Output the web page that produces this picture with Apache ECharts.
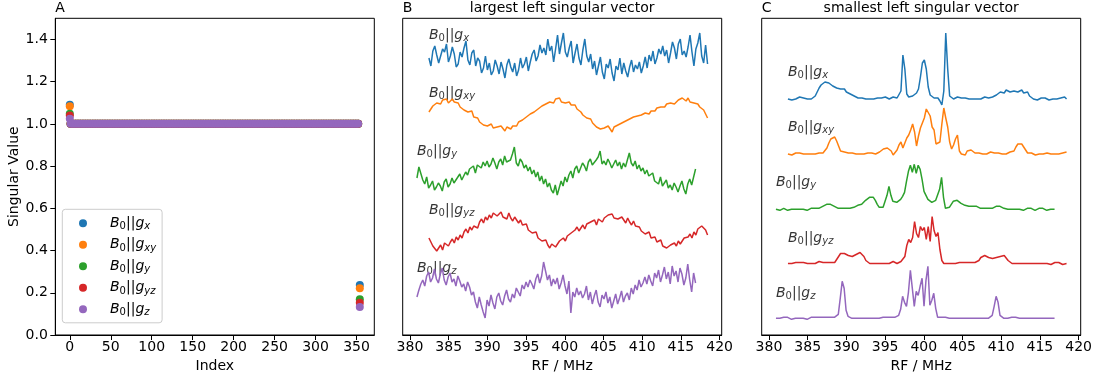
<!DOCTYPE html>
<html>
<head>
<meta charset="utf-8">
<title>singular vectors</title>
<script src="https://cdn.jsdelivr.net/npm/echarts@6/dist/echarts.min.js"></script>
<style>
  html, body { margin: 0; padding: 0; background: #fff; }
  #main { width: 1101px; height: 379px; }
</style>
</head>
<body>
<div id="main"></div>
<script>
// ---- data ----
const orientations = ['x', 'xy', 'y', 'yz', 'z'];
const colors = ['#1f77b4', '#ff7f0e', '#2ca02c', '#d62728', '#9467bd'];

// panel A: singular values vs index
const firstIndex = 0;
const lastIndex = 354;
const firstValues = [1.090, 1.083, 1.048, 1.040, 1.024];
const lastValues = [0.237, 0.222, 0.169, 0.153, 0.133];
const plateauIndex = [1, 4, 7, 10, 13, 16, 19, 22, 25, 28, 31, 34, 37, 40, 43, 46, 49, 52, 55, 58,
  61, 64, 67, 70, 73, 76, 79, 82, 85, 88, 91, 94, 97, 100, 103, 106, 109, 112, 115, 118,
  121, 124, 127, 130, 133, 136, 139, 142, 145, 148, 151, 154, 157, 160, 163, 166, 169, 172, 175, 178,
  181, 184, 187, 190, 193, 196, 199, 202, 205, 208, 211, 214, 217, 220, 223, 226, 229, 232, 235, 238,
  241, 244, 247, 250, 253, 256, 259, 262, 265, 268, 271, 274, 277, 280, 283, 286, 289, 292, 295, 298,
  301, 304, 307, 310, 313, 316, 319, 322, 325, 328, 331, 334, 337, 340, 343, 346, 349, 352];
const plateauValues = [1, 1, 1, 1, 1, 1, 1, 1, 1, 1, 1, 1, 1, 1, 1, 1, 1, 1, 1, 1,
  1, 1, 1, 1, 1, 1, 1, 1, 1, 1, 1, 1, 1, 1, 1, 1, 1, 1, 1, 1,
  1, 1, 1, 1, 1, 1, 1, 1, 1, 1, 1, 1, 1, 1, 1, 1, 1, 1, 1, 1,
  1, 1, 1, 1, 1, 1, 1, 1, 1, 1, 1, 1, 1, 1, 1, 1, 1, 1, 1, 1,
  1, 1, 1, 1, 1, 1, 1, 1, 1, 1, 1, 1, 1, 1, 1, 1, 1, 1, 1, 1,
  1, 1, 1, 1, 1, 1, 1, 1, 1, 1, 1, 1, 1, 1, 1, 1, 1, 1];

// RF grid of every trace (MHz)
const freqStart = [382.45, 382.45, 380.9, 382.45, 380.9];
const freqStep = 0.2517;

// panel B: largest left singular vector (arb. units)
const largestX = [2, -6, 9, 14, 5, -3, -1, 11, 8, 16, -2, 4,
  13, 6, -7, -4, 8, 3, 12, 19, 0, -5, 7, 10,
  -6, 2, -1, -13, -8, 4, -10, -3, -15, -11, 0, -6,
  -14, -2, -9, -18, -5, 1, -7, -12, -3, -16, -10, 2,
  -8, -4, 3, -11, -2, 6, 10, -1, 4, 15, 7, 12,
  5, 21, 9, 14, -2, 11, 25, 6, 17, 27, 8, 3,
  12, 19, -3, 7, 16, 2, -5, 10, 21, 4, -2, 6,
  -9, -1, -15, -6, 3, -12, -19, -4, -8, 1, -13, -21,
  -6, -10, 2, -14, -3, -11, -17, -7, 0, -12, -5, -9,
  -2, -13, -6, 3, -8, 5, -1, 9, -4, 2, 11, 6,
  14, 4, 10, -3, 7, 18, 12, 1, 16, 21, 5, 9,
  3, 13, 25, 8, -6, 11, 17, 27, 4, -3, 15, -4];
const largestXY = [1, 4, 7, 6, 10, 12, 9, 13, 11, 14, 10, 12,
  14, 11, 9, 10, 6, 7, 3, 4, 1, -1, 2, -4,
  -6, -5, -9, -8, -12, -10, -13, -14, -11, -15, -17, -14,
  -16, -13, -15, -18, -14, -12, -16, -13, -11, -13, -9, -10,
  -7, -8, -4, -5, -1, -3, 1, 0, 4, 3, 7, 6,
  9, 7, 11, 13, 10, 14, 12, 15, 11, 13, 10, 9,
  11, 8, 6, 8, 4, 5, 1, -2, -1, -5, -7, -6,
  -10, -12, -14, -13, -16, -18, -15, -17, -13, -16, -19, -14,
  -15, -12, -13, -10, -11, -8, -9, -6, -7, -4, -6, -3,
  -4, -2, -3, 0, 1, -1, 2, 3, 2, 5, 4, 6,
  7, 6, 9, 8, 10, 12, 9, 11, 13, 12, 15, 13,
  12, 15, 11, 12, 10, 8, 9, 6, 4, 3, -1, -5];
const largestY = [-3, 8, 10, -5, -9, -2, -13, -10, -6, -15, -12, -8,
  -11, -16, -7, -4, -12, -9, -3, -8, -10, -2, 1, -5,
  -1, 3, 0, 6, 4, 9, 2, 10, 12, 7, 13, 9,
  14, 8, 11, 17, 12, 6, 13, 16, 10, 19, 13, 11,
  15, 21, 28, 12, 9, 16, 13, 7, 10, 4, 8, 1,
  5, -2, 3, -6, -1, -9, -4, -12, -8, -15, -18, -10,
  -20, -13, -6, -11, -2, -7, 0, 4, -3, 6, 9, 2,
  7, 12, 9, 4, 13, 16, 10, 8, 15, 18, 24, 11,
  14, 10, 16, 12, 7, 11, 15, 9, 13, 6, 12, 8,
  15, 22, 12, 9, 14, 6, 10, 4, 7, 1, 5, -1,
  -3, 2, -6, -4, -9, -2, -11, -8, -5, -13, -10, -15,
  -8, -12, -17, -11, -6, -14, -19, -9, -4, -10, -2, 6];
const largestYZ = [-6, -10, -14, -12, -19, -16, -13, -18, -11, -9, -14, -10,
  -7, -11, -5, -8, -3, -6, 0, 3, -1, 5, 2, 6,
  8, 4, 10, 13, 9, 15, 12, 17, 14, 19, 21, 16,
  18, 20, 15, 17, 13, 19, 14, 11, 15, 12, 9, 12,
  7, 5, 8, 2, 4, -1, -3, 0, -6, -4, -9, -11,
  -8, -13, -16, -12, -10, -15, -17, -9, -11, -6, -9, -4,
  -5, -1, -3, 2, 5, 1, 4, 7, 3, 8, 6, 10,
  9, 12, 7, 13, 15, 10, 14, 12, 17, 15, 18, 14,
  16, 13, 11, 15, 12, 9, 14, 10, 7, 11, 6, 4,
  5, 1, 3, -2, -4, 0, -6, -8, -5, -10, -12, -8,
  -14, -12, -16, -18, -13, -15, -11, -14, -9, -12, -10, -6,
  -8, -5, -2, -6, 0, -3, 3, 1, 6, 4, 2, -3];
const largestZ = [-9, -2, 4, 8, 2, 12, 16, 6, 10, 19, 9, 5,
  14, 20, 8, 3, 11, 15, 6, 9, 2, 12, 7, 1,
  4, -3, 6, 1, -7, -4, -14, -20, -9, -17, -24, -30,
  -12, -18, -7, -15, -21, -9, -5, -13, -17, -8, -2, -11,
  -14, -6, -10, 0, -4, -8, 3, -1, 6, 1, 8, 4,
  -1, 9, 14, 5, 12, 26, 17, 8, 13, 2, 9, 4,
  10, -1, 5, 13, 2, -6, 7, -25, -4, -9, 0, -7,
  -3, -10, -6, 2, -12, -4, -16, -8, -2, -14, -19, -7,
  -11, -4, -15, -9, -20, -13, -6, -16, -10, -3, -14, -8,
  -5, -12, 0, -6, 3, -2, 8, 1, 5, 11, 4, 13,
  7, 2, 15, 10, 18, 6, 13, 21, 9, 16, 4, 22,
  12, 17, 6, 20, 14, 3, 10, 24, 8, -4, 15, 5];

// panel C: smallest left singular vector (arb. units)
const smallestX = [0, 1, -1, 1, 0, -1, 2, 0, 1, -1, 0, 1,
  0, 1, 3, 7, 11, 14, 16, 17, 15, 16, 14, 13,
  14, 11, 12, 10, 9, 10, 7, 8, 5, 6, 3, 2,
  1, 0, 1, -1, 0, 1, 0, 2, 0, -1, 1, 0,
  1, 0, 2, 1, 0, 1, 2, 0, 1, 3, 8, 44,
  30, 5, 2, 1, 3, 3, 6, 10, 22, 36, 39, 30,
  12, 4, 2, 1, 0, 1, -2, -6, 8, 66, 30, 3,
  1, 0, 1, 2, 0, 1, 0, 1, -1, 0, 1, 0,
  1, 0, 1, 0, 1, 2, 0, 1, 0, 2, 1, 4,
  6, 7, 8, 6, 9, 8, 7, 9, 8, 10, 7, 8,
  9, 6, 8, 7, 3, 1, 0, 1, -1, 0, 1, 0,
  1, 0, -1, 1, 0, 1, 0, -1, 1, 0, 2, 0];
const smallestXY = [0, 1, -1, 0, 1, 0, 1, -1, 0, 1, 0, 1,
  0, 1, 0, 2, 1, 0, 1, 3, 6, 11, 15, 17,
  17, 13, 8, 3, 1, 2, 0, 1, 0, 1, 2, 0,
  1, 0, 1, 0, 2, 1, 0, 1, 2, 0, 1, 2,
  3, 5, 7, 6, 4, 3, -1, 1, 4, 9, 12, 6,
  8, 16, 19, 24, 30, 22, 8, 18, 26, 28, 36, 45,
  47, 38, 27, 24, 10, 8, 12, 30, 46, 36, 27, 12,
  5, 9, 15, 19, 3, 0, -2, -1, 3, 5, 4, 2,
  1, 0, 1, 2, 0, 1, 0, 1, 2, 0, 1, 0,
  1, 2, 0, 1, 0, 1, 2, 1, 3, 7, 10, 11,
  10, 7, 4, 1, 0, 1, 0, -1, 1, 0, 1, 0,
  0, 1, -1, 0, 1, 0, 1, 0, -1, 1, 0, 2];
const smallestY = [0, 1, -1, 0, 1, 0, -1, 1, 0, 1, 0, -1,
  0, 1, 0, 1, -1, 0, 1, 0, 1, 0, 1, 2,
  3, 4, 5, 4, 5, 4, 3, 2, 1, 2, 1, 2,
  1, 2, 1, 3, 2, 3, 4, 3, 5, 7, 9, 11,
  12, 13, 12, 9, 5, 2, 1, 2, 4, 14, 23, 14,
  8, 8, 7, 8, 10, 13, 17, 28, 38, 44, 37, 45,
  36, 44, 40, 30, 18, 14, 10, 8, 7, 8, 9, 11,
  20, 32, 12, 1, 0, 2, 5, 8, 9, 9, 7, 6,
  5, 4, 5, 3, 4, 3, 2, 3, 2, 1, 2, 1,
  0, 1, 2, 1, 2, 3, 2, 3, 2, 1, 2, 0,
  1, 0, -1, 0, 1, 0, 1, -1, 0, 1, 0, 1,
  0, -1, 0, 1, 0, 1, 0, -1, 1, 0, 1, 0];
const smallestYZ = [0, 1, 0, -1, 1, 0, 1, 0, 1, -1, 0, 1,
  0, 1, 0, 1, 2, 0, 1, 0, 1, 0, 1, 1,
  1, 3, 7, 10, 11, 10, 9, 8, 8, 7, 8, 9,
  10, 11, 11, 7, 3, 1, 0, 1, 0, 1, 0, 1,
  0, 1, 0, 1, 0, 1, 2, 1, 0, 1, 2, 3,
  7, 18, 24, 21, 26, 42, 30, 26, 37, 33, 36, 24,
  37, 22, 47, 33, 27, 31, 14, 3, 0, 1, 0, 1,
  0, 1, 0, -1, 1, 0, 1, 0, 1, 0, 1, 0,
  1, 1, 3, 6, 8, 8, 7, 6, 6, 5, 6, 6,
  7, 7, 8, 8, 6, 3, 1, 0, 1, 0, 1, 0,
  1, 0, 1, 0, -1, 0, 1, 0, 1, 0, 1, 0,
  1, 0, 1, -1, 0, 1, 0, 1, 0, -1, 1, 0];
const smallestZ = [0, 1, 0, -1, 1, 0, 1, 0, -1, 1, 0, 1,
  0, 1, 0, 1, -1, 0, 1, 0, 1, 0, 1, 0,
  1, 0, 1, 0, 1, 0, 1, 1, 4, 20, 37, 30,
  8, 2, 1, 0, 1, 0, 1, 0, -1, 0, 1, 0,
  1, 0, 1, 0, 1, 0, 0, 1, 0, 1, 0, 1,
  0, 1, 1, 3, 9, 22, 16, 12, 26, 48, 30, 12,
  27, 23, 32, 40, 12, 38, 52, 13, 18, 25, 10, 1,
  0, 1, 0, 1, -1, 0, 1, 0, 1, 0, 1, 0,
  1, 0, 1, 0, -1, 0, 1, 0, 1, 0, 1, 0,
  1, 0, 1, 3, 12, 22, 16, 3, 1, 0, 1, 0,
  0, 1, 0, 1, -1, 0, 1, 0, 1, 0, 1, 0,
  1, 0, 1, 0, -1, 0, 1, 0, 1, 0, 1, 0];

const indexTicks = [0, 50, 100, 150, 200, 250, 300, 350];
const valueTicks = [0, 0.2, 0.4, 0.6, 0.8, 1.0, 1.2, 1.4];
const rfTicks = [380, 385, 390, 395, 400, 405, 410, 415, 420];

// ---- layout (stacking of the traces, label lift) ----
const stackB = [275, 222, 160, 103, 47];
const stackC = [236, 181, 125.7, 71.5, 16.7];
const labelB = [300, 242, 184, 125, 67];
const labelC = [263, 208, 153, 97, 42];

const largest = [largestX, largestXY, largestY, largestYZ, largestZ];
const smallest = [smallestX, smallestXY, smallestY, smallestYZ, smallestZ];

const FONT = 'DejaVu Sans';
const grids = [
  { left: 55.3, top: 18.3, width: 319, height: 316.7 },
  { left: 402.7, top: 18.3, width: 319, height: 316.7 },
  { left: 761.7, top: 18.3, width: 319, height: 316.7 }
];

const rich = {
  i: { fontFamily: FONT, fontStyle: 'italic', fontSize: 14, lineHeight: 17, color: '#000' },
  n: { fontFamily: FONT, fontSize: 14, lineHeight: 17, color: '#000' },
  s: { fontFamily: FONT, fontSize: 10, lineHeight: 10, verticalAlign: 'bottom', color: '#000' },
  si: { fontFamily: FONT, fontStyle: 'italic', fontSize: 10, lineHeight: 10, verticalAlign: 'bottom', color: '#000' }
};
function mathLabel(sub) {
  return '{i|B}{s|0}{n|||}{i|g}{si|' + sub + '}';
}

function xAxisCfg(gi, min, max, ticks, name, fmt) {
  return {
    gridIndex: gi, type: 'value', min: min, max: max,
    name: name, nameLocation: 'middle', nameGap: 23,
    nameTextStyle: { fontFamily: FONT, fontSize: 14, color: '#000' },
    axisLine: { onZero: false, lineStyle: { color: '#000', width: 1 } },
    axisTick: { customValues: ticks, length: 5, lineStyle: { color: '#000' } },
    axisLabel: { customValues: ticks, margin: 5, fontFamily: FONT, fontSize: 14, color: '#000', formatter: fmt },
    splitLine: { show: false }
  };
}

const series = [];
// panel A
orientations.forEach((o, k) => {
  const pts = [[firstIndex, firstValues[k]]];
  plateauIndex.forEach((ix, j) => pts.push([ix, plateauValues[j]]));
  pts.push([lastIndex, lastValues[k]]);
  series.push({
    name: o, type: 'scatter', xAxisIndex: 0, yAxisIndex: 0,
    data: pts, symbolSize: 8,
    itemStyle: { color: colors[k], opacity: 1 },
    silent: true, animation: false
  });
});
// panels B and C
function traces(arrs, stack, labels, gi) {
  arrs.forEach((vals, k) => {
    series.push({
      name: 'p' + gi + orientations[k], type: 'line', xAxisIndex: gi, yAxisIndex: gi,
      data: vals.map((v, i) => [freqStart[k] + i * freqStep, stack[k] + v]),
      symbol: 'none', lineStyle: { width: 1.5, color: colors[k] },
      silent: true, animation: false
    });
    series.push({
      name: 'l' + gi + orientations[k], type: 'scatter', xAxisIndex: gi, yAxisIndex: gi,
      data: [[freqStart[k], labels[k]]], symbolSize: 0,
      label: { show: true, position: 'right', distance: 0, formatter: mathLabel(orientations[k]), rich: rich },
      silent: true, animation: false
    });
  });
}
traces(largest, stackB, labelB, 1);
traces(smallest, stackC, labelC, 2);

const chart = echarts.init(document.getElementById('main'), null, { renderer: 'canvas' });
chart.setOption({
  backgroundColor: '#fff',
  animation: false,
  textStyle: { fontFamily: FONT },
  grid: grids.map(g => Object.assign({ show: true, borderColor: '#000', borderWidth: 1, containLabel: false }, g)),
  xAxis: [
    xAxisCfg(0, -17.7, 371.7, indexTicks, 'Index', v => String(v)),
    xAxisCfg(1, 379.06, 420.27, rfTicks, 'RF / MHz', v => String(v)),
    xAxisCfg(2, 379.06, 420.27, rfTicks, 'RF / MHz', v => String(v))
  ],
  yAxis: [
    {
      gridIndex: 0, type: 'value', min: 0, max: 1.5,
      name: 'Singular Value', nameLocation: 'middle', nameGap: 33,
      nameTextStyle: { fontFamily: FONT, fontSize: 14, color: '#000' },
      axisLine: { show: true, onZero: false, lineStyle: { color: '#000', width: 1 } },
      axisTick: { show: true, customValues: valueTicks, length: 5, lineStyle: { color: '#000' } },
      axisLabel: { customValues: valueTicks, margin: 7.5, fontFamily: FONT, fontSize: 14, color: '#000', formatter: v => v.toFixed(1) },
      splitLine: { show: false }
    },
    { gridIndex: 1, type: 'value', min: 0, max: 316.7, show: false },
    { gridIndex: 2, type: 'value', min: 0, max: 316.7, show: false }
  ],
  legend: {
    data: orientations.slice(),
    orient: 'vertical', left: 62.3, top: 209.3,
    icon: 'circle', itemWidth: 8, itemHeight: 8, itemGap: 6,
    padding: [7, 6, 5, 16.7],
    borderColor: '#cccccc', borderWidth: 1, borderRadius: 3,
    backgroundColor: 'rgba(255,255,255,0.8)',
    selectedMode: false,
    formatter: name => mathLabel(name),
    textStyle: { rich: rich, padding: [0, 0, 0, 18] }
  },
  graphic: [
    { type: 'text', x: 55.3, y: 8, style: { text: 'A', fontFamily: FONT, fontSize: 14, fill: '#000', verticalAlign: 'middle' } },
    { type: 'text', x: 402.7, y: 8, style: { text: 'B', fontFamily: FONT, fontSize: 14, fill: '#000', verticalAlign: 'middle' } },
    { type: 'text', x: 562.2, y: 8, style: { text: 'largest left singular vector', fontFamily: FONT, fontSize: 14, fill: '#000', align: 'center', verticalAlign: 'middle' } },
    { type: 'text', x: 761.7, y: 8, style: { text: 'C', fontFamily: FONT, fontSize: 14, fill: '#000', verticalAlign: 'middle' } },
    { type: 'text', x: 921.2, y: 8, style: { text: 'smallest left singular vector', fontFamily: FONT, fontSize: 14, fill: '#000', align: 'center', verticalAlign: 'middle' } }
  ],
  series: series
});
</script>
</body>
</html>
